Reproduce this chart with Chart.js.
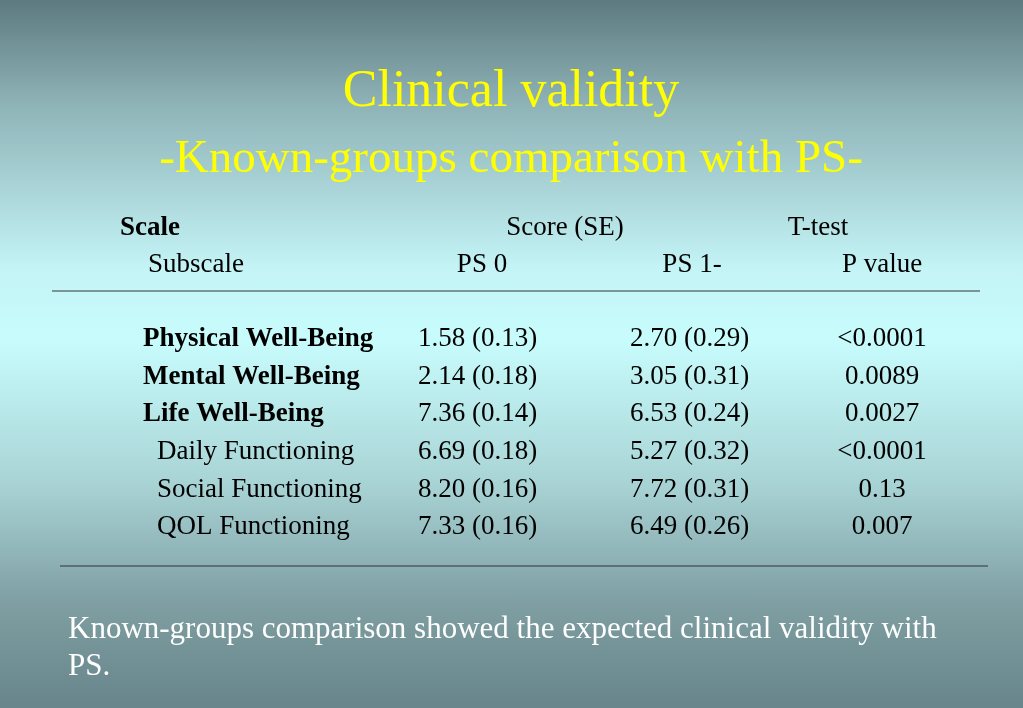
<!DOCTYPE html>
<html><head><meta charset="utf-8">
<script src="https://cdn.jsdelivr.net/npm/chart.js@4"></script>
<style>
html,body{margin:0;padding:0;width:1023px;height:708px;overflow:hidden;
background:linear-gradient(to bottom,#5d7a80 0%,#8fb4b8 15%,#c4f4f6 38%,#c8fcfc 48%,#a9d4d6 68%,#7f9fa3 85%,#67858a 100%);}
canvas{display:block}
</style></head><body>
<canvas id="c" width="1023" height="708"></canvas>
<script>
const title = "Clinical validity";
const subtitle = "-Known-groups comparison with PS-";
const headers1 = ["Scale", "Score (SE)", "T-test"];
const headers2 = ["Subscale", "PS 0", "PS 1-", "P value"];
const scales = ["Physical Well-Being","Mental Well-Being","Life Well-Being","Daily Functioning","Social Functioning","QOL Functioning"];
const isMain = [true,true,true,false,false,false];
const ps0 = ["1.58 (0.13)","2.14 (0.18)","7.36 (0.14)","6.69 (0.18)","8.20 (0.16)","7.33 (0.16)"];
const ps1 = ["2.70 (0.29)","3.05 (0.31)","6.53 (0.24)","5.27 (0.32)","7.72 (0.31)","6.49 (0.26)"];
const pval = ["<0.0001","0.0089","0.0027","<0.0001","0.13","0.007"];
const footer = ["Known-groups comparison showed the expected clinical validity with","PS."];

const F = '"Liberation Serif","Times New Roman",serif';
const rowY = [339,377,414,452,490,527];

const tablePlugin = {
  id:'table',
  afterDraw(chart){
    const ctx = chart.ctx, X = chart.scales.x, Y = chart.scales.y;
    const px = v => X.getPixelForValue(v), py = v => Y.getPixelForValue(v);
    function t(s,x,y,size,opts={}){
      ctx.save();
      ctx.font = (opts.bold?'bold ':'')+size+'px '+F;
      ctx.fillStyle = opts.color||'#000';
      ctx.textAlign = opts.align||'left';
      ctx.textBaseline = 'middle';
      ctx.fillText(s,px(x),py(y));
      ctx.restore();
    }
    function line(x1,x2,y){
      ctx.save();ctx.strokeStyle='#333';ctx.lineWidth=1;
      ctx.beginPath();ctx.moveTo(px(x1),py(y));ctx.lineTo(px(x2),py(y));ctx.stroke();ctx.restore();
    }
    t(title,511,92,52,{align:'center',color:'#ffff00'});
    t(subtitle,511,160,47,{align:'center',color:'#ffff00'});
    t(headers1[0],120,228,27,{bold:true});
    t(headers1[1],565,228,27,{align:'center'});
    t(headers1[2],818,228,27,{align:'center'});
    t(headers2[0],148,265,27);
    t(headers2[1],482,265,27,{align:'center'});
    t(headers2[2],692,265,27,{align:'center'});
    t(headers2[3],882,265,27,{align:'center'});
    line(52,980,291);
    scales.forEach((s,i)=>{
      const y=rowY[i];
      t(s,isMain[i]?143:157,y,27,{bold:isMain[i]});
      t(ps0[i],418,y,27);
      t(ps1[i],630,y,27);
      t(pval[i],882,y,27,{align:'center'});
    });
    line(60,988,566);
    t(footer[0],68,630,31,{color:'#ffffff'});
    t(footer[1],68,667,31,{color:'#ffffff'});
  }
};

new Chart(document.getElementById('c'),{
  type:'scatter',
  data:{datasets:[{data:[],pointRadius:0}]},
  options:{
    responsive:false,animation:false,devicePixelRatio:1,
    layout:{padding:0},
    plugins:{legend:{display:false},tooltip:{enabled:false}},
    scales:{
      x:{type:'linear',min:0,max:1023,display:false},
      y:{type:'linear',min:0,max:708,reverse:true,display:false}
    }
  },
  plugins:[tablePlugin]
});
</script>
</body></html>
